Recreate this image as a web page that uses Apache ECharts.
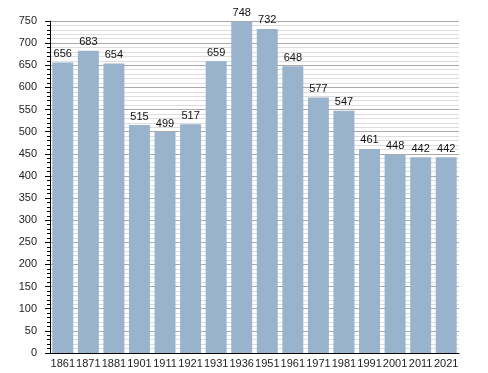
<!DOCTYPE html>
<html><head><meta charset="utf-8">
<script src="https://cdn.jsdelivr.net/npm/echarts@6/dist/echarts.min.js"></script>
<style>html,body{margin:0;padding:0;background:#fff}#c{width:488px;height:373px}</style>
</head><body><div id="c"></div>
<script>
const years = ['1861','1871','1881','1901','1911','1921','1931','1936','1951','1961','1971','1981','1991','2001','2011','2021'];
const population = [656,683,654,515,499,517,659,748,732,648,577,547,461,448,442,442];
const yTicks = {min:0, max:750, interval:50};

const chart = echarts.init(document.getElementById('c'), null, {renderer:'canvas'});
chart.setOption({
  animation:false,
  backgroundColor:'#fff',
  grid:{left:50, right:29, top:21, bottom:20, containLabel:false},
  xAxis:{
    type:'category', data:years, boundaryGap:true,
    axisLine:{show:true, lineStyle:{color:'#000', width:1}},
    axisTick:{show:false},
    axisLabel:{color:'#222', fontSize:11, fontFamily:'Liberation Sans, Arial, sans-serif', margin:5, interval:0}
  },
  yAxis:{
    type:'value', min:yTicks.min, max:yTicks.max, interval:yTicks.interval,
    axisLine:{show:true, lineStyle:{color:'#000', width:1}},
    axisTick:{show:true, length:5, lineStyle:{color:'#000'}},
    minorTick:{show:true, splitNumber:5, length:3, lineStyle:{color:'#000'}},
    splitLine:{show:true, lineStyle:{color:'#aaaaaa', width:1}},
    minorSplitLine:{show:true, lineStyle:{color:'#dddddd', width:1}},
    axisLabel:{color:'#222', fontSize:11, fontFamily:'Liberation Sans, Arial, sans-serif', margin:13}
  },
  series:[{
    type:'bar', data:population, barCategoryGap:'18%',
    itemStyle:{color:'#99b3cc'},
    label:{show:true, position:'top', distance:3, color:'#111', fontSize:11, fontFamily:'Liberation Sans, Arial, sans-serif'}
  }]
});
</script></body></html>
